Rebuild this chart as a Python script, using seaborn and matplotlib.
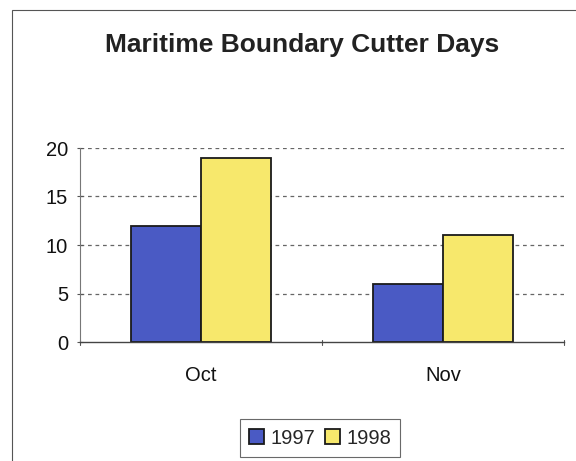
import matplotlib
matplotlib.use("Agg")
import matplotlib.pyplot as plt
import seaborn as sns
import pandas as pd
from matplotlib.patches import Rectangle

months = ["Oct", "Nov"]
years = ["1997", "1998"]
values_1997 = [12, 6]
values_1998 = [19, 11]
y_ticks = [0, 5, 10, 15, 20]

df = pd.DataFrame({
    "Month": months * 2,
    "Year": [years[0]] * 2 + [years[1]] * 2,
    "Days": values_1997 + values_1998,
})

sns.set_style("white")
plt.rcParams["font.family"] = ["Liberation Sans", "DejaVu Sans"]

fig = plt.figure(figsize=(5.76, 4.61), dpi=100)
ax = fig.add_axes([80/576, 1-342/461, (564-80)/576, (342-148)/461])

palette = {"1997": "#4a5ac4", "1998": "#f7e86c"}
sns.barplot(data=df, x="Month", y="Days", hue="Year", order=months,
            hue_order=years, palette=palette, width=0.58, ax=ax,
            edgecolor="#1a1a1a", linewidth=1.3, saturation=1, legend=True)

ax.set_ylim(0, 20)
ax.set_xlim(-0.5, 1.5)
ax.set_yticks(y_ticks)
ax.set_yticklabels([str(v) for v in y_ticks], fontsize=14.5, color="#111111")
ax.set_xticks([0, 1])
ax.set_xticklabels(months, fontsize=14.5, color="#111111")
ax.set_xlabel("")
ax.set_ylabel("")
ax.tick_params(axis="x", length=0, pad=17)
ax.tick_params(axis="y", length=5, width=0.8, color="#555555", left=True,
               direction="inout", pad=6)
for v in [5, 10, 15, 20]:
    ax.axhline(v, color="#666666", linestyle=(0, (3, 3)), linewidth=0.9, zorder=0)
ax.set_axisbelow(True)
for x in [-0.5, 0.5, 1.5]:
    ax.plot([x, x], [0.25, -0.35], color="#555555", linewidth=0.8, clip_on=False)
ax.spines["top"].set_visible(False)
ax.spines["right"].set_visible(False)
ax.spines["left"].set_color("#777777")
ax.spines["bottom"].set_color("#444444")
ax.spines["left"].set_linewidth(0.8)
ax.spines["bottom"].set_linewidth(1.0)

handles, labels = ax.get_legend_handles_labels()
ax.get_legend().remove()
leg = fig.legend(handles, labels, loc="center", bbox_to_anchor=(320/576, 1-438/461),
                 ncol=2, frameon=True, fontsize=14.5, handlelength=0.75, handleheight=0.75,
                 handletextpad=0.3, columnspacing=0.5, fancybox=False, borderpad=0.45)
leg.get_frame().set_edgecolor("#444444")
leg.get_frame().set_linewidth(0.8)

fig.text(302/576, 1-45/461, "Maritime Boundary Cutter Days", ha="center", va="center",
         fontsize=19, fontweight="bold", color="#222222")

fig.patches.append(Rectangle((12/576, -0.05), 1.0, 1-10/461+0.05, transform=fig.transFigure,
                             fill=False, edgecolor="#555555", linewidth=0.8))

fig.savefig("out.png", dpi=100)
